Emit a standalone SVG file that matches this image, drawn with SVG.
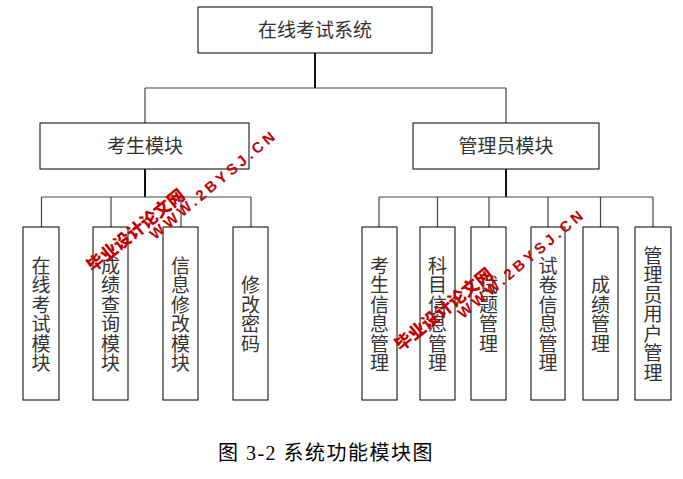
<svg xmlns="http://www.w3.org/2000/svg" width="683" height="479" viewBox="0 0 683 479">
<style>
.box{fill:#fff;stroke:#000;stroke-width:1}
.ln{stroke:#444;stroke-width:1.2;fill:none}
.thick{stroke:#111;stroke-width:2;fill:none}
.t{font-family:"Noto Sans CJK SC","Noto Sans",sans-serif;font-size:19px;fill:#333;text-anchor:middle}
.cap{font-family:"Liberation Serif","Noto Sans CJK SC",serif;font-size:20px;fill:#000;text-anchor:middle;letter-spacing:1.5px}
.wm{fill:#c00000;font-weight:bold;text-anchor:middle}
.wc{font-family:"Noto Sans CJK SC",sans-serif;font-size:17px;font-weight:900}
.we{font-family:"Liberation Sans",Arial,sans-serif;font-size:15px}
</style>
<rect width="683" height="479" fill="#fff"/>
<g id="connectors">
<path class="thick" d="M315 53V88"/>
<path class="ln" d="M145 88H506M145 88V123M506 88V123"/>
<path class="thick" d="M145 169V197M506 169V197"/>
<path class="ln" d="M41.5 197H251M41.5 197V227M111 197V227M181 197V227M251 197V227"/>
<path class="ln" d="M379 197H653M379 197V227M437.5 197V227M489 197V227M548 197V227M600.5 197V227M653 197V227"/>
</g>
<g id="root"><rect class="box" x="198" y="7" width="234" height="46"/><text class="t" x="315" y="37">在线考试系统</text></g>
<g id="student"><rect class="box" x="40" y="123" width="209" height="46"/><text class="t" x="145" y="153">考生模块</text></g>
<g id="admin"><rect class="box" x="413" y="123" width="186" height="46"/><text class="t" x="506" y="153">管理员模块</text></g>
<g id="s1"><rect class="box" x="23" y="227" width="36" height="173"/><text class="t" x="41" y="272.5"><tspan x="41">在</tspan><tspan x="41" dy="19.5">线</tspan><tspan x="41" dy="19.5">考</tspan><tspan x="41" dy="19.5">试</tspan><tspan x="41" dy="19.5">模</tspan><tspan x="41" dy="19.5">块</tspan></text></g>
<g id="s2"><rect class="box" x="93" y="227" width="35" height="173"/><text class="t" x="110.5" y="272.5"><tspan x="110.5">成</tspan><tspan x="110.5" dy="19.5">绩</tspan><tspan x="110.5" dy="19.5">查</tspan><tspan x="110.5" dy="19.5">询</tspan><tspan x="110.5" dy="19.5">模</tspan><tspan x="110.5" dy="19.5">块</tspan></text></g>
<g id="s3"><rect class="box" x="163" y="227" width="35" height="173"/><text class="t" x="180.5" y="272.5"><tspan x="180.5">信</tspan><tspan x="180.5" dy="19.5">息</tspan><tspan x="180.5" dy="19.5">修</tspan><tspan x="180.5" dy="19.5">改</tspan><tspan x="180.5" dy="19.5">模</tspan><tspan x="180.5" dy="19.5">块</tspan></text></g>
<g id="s4"><rect class="box" x="233" y="227" width="35" height="173"/><text class="t" x="250.5" y="292"><tspan x="250.5">修</tspan><tspan x="250.5" dy="19.5">改</tspan><tspan x="250.5" dy="19.5">密</tspan><tspan x="250.5" dy="19.5">码</tspan></text></g>
<g id="a1"><rect class="box" x="362" y="227" width="35" height="173"/><text class="t" x="379.5" y="272.5"><tspan x="379.5">考</tspan><tspan x="379.5" dy="19.5">生</tspan><tspan x="379.5" dy="19.5">信</tspan><tspan x="379.5" dy="19.5">息</tspan><tspan x="379.5" dy="19.5">管</tspan><tspan x="379.5" dy="19.5">理</tspan></text></g>
<g id="a2"><rect class="box" x="420" y="227" width="35" height="173"/><text class="t" x="437.5" y="272.5"><tspan x="437.5">科</tspan><tspan x="437.5" dy="19.5">目</tspan><tspan x="437.5" dy="19.5">信</tspan><tspan x="437.5" dy="19.5">息</tspan><tspan x="437.5" dy="19.5">管</tspan><tspan x="437.5" dy="19.5">理</tspan></text></g>
<g id="a3"><rect class="box" x="471" y="227" width="35" height="173"/><text class="t" x="488.5" y="292"><tspan x="488.5">试</tspan><tspan x="488.5" dy="19.5">题</tspan><tspan x="488.5" dy="19.5">管</tspan><tspan x="488.5" dy="19.5">理</tspan></text></g>
<g id="a4"><rect class="box" x="531" y="227" width="34" height="173"/><text class="t" x="548" y="272.5"><tspan x="548">试</tspan><tspan x="548" dy="19.5">卷</tspan><tspan x="548" dy="19.5">信</tspan><tspan x="548" dy="19.5">息</tspan><tspan x="548" dy="19.5">管</tspan><tspan x="548" dy="19.5">理</tspan></text></g>
<g id="a5"><rect class="box" x="583" y="227" width="35" height="173"/><text class="t" x="600.5" y="292"><tspan x="600.5">成</tspan><tspan x="600.5" dy="19.5">绩</tspan><tspan x="600.5" dy="19.5">管</tspan><tspan x="600.5" dy="19.5">理</tspan></text></g>
<g id="a6"><rect class="box" x="635" y="227" width="36" height="173"/><text class="t" x="653" y="262.5"><tspan x="653">管</tspan><tspan x="653" dy="19.5">理</tspan><tspan x="653" dy="19.5">员</tspan><tspan x="653" dy="19.5">用</tspan><tspan x="653" dy="19.5">户</tspan><tspan x="653" dy="19.5">管</tspan><tspan x="653" dy="19.5">理</tspan></text></g>
<text class="cap" x="326" y="460">图 3-2 系统功能模块图</text>
<g id="watermark1" class="wm">
<text class="wc" transform="translate(139.5 235) rotate(-39)" textLength="120" lengthAdjust="spacing">毕业设计论文网</text>
<text class="we" transform="translate(215.6 189.5) rotate(-40)" textLength="158" lengthAdjust="spacing">WWW.2BYSJ.CN</text>
</g>
<g id="watermark2" class="wm" transform="translate(308 79)">
<text class="wc" transform="translate(139.5 235) rotate(-39)" textLength="120" lengthAdjust="spacing">毕业设计论文网</text>
<text class="we" transform="translate(215.6 189.5) rotate(-40)" textLength="158" lengthAdjust="spacing">WWW.2BYSJ.CN</text>
</g>
</svg>
